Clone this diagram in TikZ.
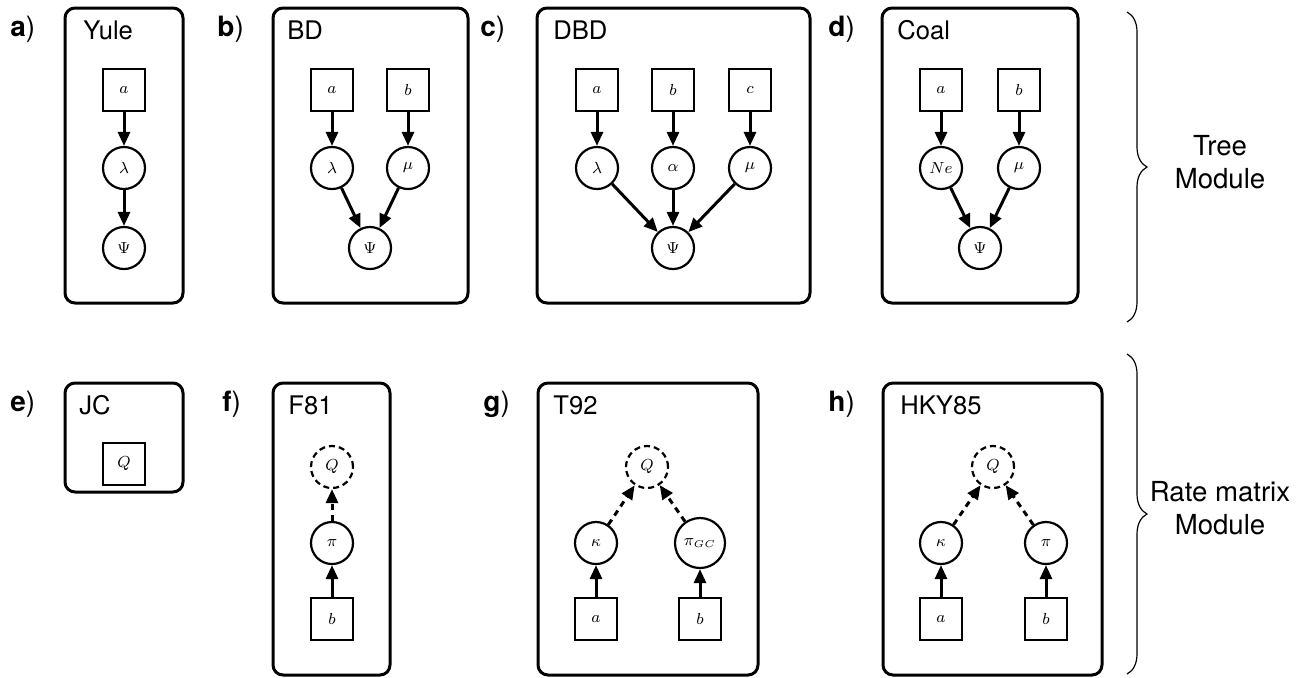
\documentclass[tikz,border=0pt]{standalone}
\usepackage{fontspec}
\setmainfont{TeX Gyre Heros}
\usetikzlibrary{arrows.meta,decorations.pathreplacing}
\begin{document}
\begin{tikzpicture}[x=0.5pt,y=-0.5pt,
  panel/.style={draw,line width=1.5pt,rounded corners=5pt},
  sq/.style={draw,line width=1pt,minimum size=21pt,inner sep=0pt,font=\fontsize{7.8}{9}\selectfont},
  cir/.style={draw,circle,line width=1.1pt,minimum size=21pt,inner sep=0pt,font=\fontsize{7.8}{9}\selectfont},
  dcir/.style={cir,dash pattern=on 3pt off 2pt},
  arr/.style={-{Triangle[length=7pt,width=6pt]},line width=1.5pt},
  darr/.style={arr,dash pattern=on 3pt off 2.5pt},
  title/.style={anchor=base west,inner sep=0pt,font=\fontsize{12.8}{14}\selectfont},
  plabel/.style={anchor=base west,inner sep=0pt,font=\fontsize{14}{16}\selectfont},
  modtext/.style={align=center,inner sep=0pt,font=\fontsize{13.8}{16.5}\selectfont},
  brc/.style={decorate,decoration={brace,amplitude=10pt},line width=0.6pt}]
\useasboundingbox (0,0) rectangle (1301,677);

% ---------- panel a: Yule ----------
\draw[panel] (65,8) rectangle (183,303);
\node[plabel] (la) at (10,36) {\textbf{a})};
\node[title] (ta) at (83,39) {Yule};
\node[sq] (aa) at (124,90) {$a$};
\node[cir] (alam) at (124,168) {$\lambda$};
\node[cir] (apsi) at (124,248) {$\Psi$};
\draw[arr] (aa) -- (alam);
\draw[arr] (alam) -- (apsi);

% ---------- panel b: BD ----------
\draw[panel] (273,8) rectangle (468,303);
\node[plabel] (lb) at (217,36) {\textbf{b})};
\node[title] (tb) at (287,39) {BD};
\node[sq] (ba) at (332,90) {$a$};
\node[sq] (bb) at (408,90) {$b$};
\node[cir] (blam) at (332,168) {$\lambda$};
\node[cir] (bmu) at (408,168) {$\mu$};
\node[cir] (bpsi) at (370,248) {$\Psi$};
\draw[arr] (ba) -- (blam);
\draw[arr] (bb) -- (bmu);
\draw[arr] (blam) -- (bpsi);
\draw[arr] (bmu) -- (bpsi);

% ---------- panel c: DBD ----------
\draw[panel] (537,8) rectangle (810,303);
\node[plabel] (lc) at (480,36) {\textbf{c})};
\node[title] (tc) at (553,39) {DBD};
\node[sq] (ca) at (597,90) {$a$};
\node[sq] (cb) at (673,90) {$b$};
\node[sq] (cc) at (750,90) {$c$};
\node[cir] (clam) at (597,168) {$\lambda$};
\node[cir] (calp) at (673,168) {$\alpha$};
\node[cir] (cmu) at (750,168) {$\mu$};
\node[cir] (cpsi) at (673,248) {$\Psi$};
\draw[arr] (ca) -- (clam);
\draw[arr] (cb) -- (calp);
\draw[arr] (cc) -- (cmu);
\draw[arr] (clam) -- (cpsi);
\draw[arr] (calp) -- (cpsi);
\draw[arr] (cmu) -- (cpsi);

% ---------- panel d: Coal ----------
\draw[panel] (882,8) rectangle (1078,303);
\node[plabel] (ld) at (828,36) {\textbf{d})};
\node[title] (td) at (897,39) {Coal};
\node[sq] (da) at (941,90) {$a$};
\node[sq] (db) at (1019,90) {$b$};
\node[cir] (dne) at (941,168) {$Ne$};
\node[cir] (dmu) at (1019,168) {$\mu$};
\node[cir] (dpsi) at (980,248) {$\Psi$};
\draw[arr] (da) -- (dne);
\draw[arr] (db) -- (dmu);
\draw[arr] (dne) -- (dpsi);
\draw[arr] (dmu) -- (dpsi);

% ---------- panel e: JC ----------
\draw[panel] (65,383) rectangle (183,492);
\node[plabel] (le) at (10,411) {\textbf{e})};
\node[title] (te) at (79,414) {JC};
\node[sq] (eq) at (124,464) {$Q$};

% ---------- panel f: F81 ----------
\draw[panel] (273,383) rectangle (390,675);
\node[plabel] (lf) at (222,411) {\textbf{f})};
\node[title] (tf) at (288,414) {F81};
\node[dcir] (fq) at (332,467) {$Q$};
\node[cir] (fpi) at (332,543) {$\pi$};
\node[sq] (fb) at (332,619) {$b$};
\draw[darr] (fpi) -- (fq);
\draw[arr] (fb) -- (fpi);

% ---------- panel g: T92 ----------
\draw[panel] (538,383) rectangle (758,675);
\node[plabel] (lg) at (483,411) {\textbf{g})};
\node[title] (tg) at (553,414) {T92};
\node[dcir] (gq) at (647,467) {$Q$};
\node[cir] (gk) at (596,543) {$\kappa$};
\node[cir,minimum size=25pt] (gpi) at (700,543) {$\pi_{GC}$};
\node[sq] (ga) at (596,619) {$a$};
\node[sq] (gb) at (700,619) {$b$};
\draw[darr] (gk) -- (gq);
\draw[darr] (gpi) -- (gq);
\draw[arr] (ga) -- (gk);
\draw[arr] (gb) -- (gpi);

% ---------- panel h: HKY85 ----------
\draw[panel] (883,383) rectangle (1102,675);
\node[plabel] (lh) at (828,411) {\textbf{h})};
\node[title] (th) at (900,414) {HKY85};
\node[dcir] (hq) at (993,467) {$Q$};
\node[cir] (hk) at (941,543) {$\kappa$};
\node[cir] (hpi) at (1046,543) {$\pi$};
\node[sq] (ha) at (941,619) {$a$};
\node[sq] (hb) at (1046,619) {$b$};
\draw[darr] (hk) -- (hq);
\draw[darr] (hpi) -- (hq);
\draw[arr] (ha) -- (hk);
\draw[arr] (hb) -- (hpi);

% ---------- braces ----------
\coordinate (b1s) at (1127,12);
\coordinate (b1e) at (1127,322);
\coordinate (b2s) at (1127,354);
\coordinate (b2e) at (1127,674);
\draw[brc] (b1s) -- (b1e);
\draw[brc] (b2s) -- (b2e);
\node[modtext] (tree) at (1220,162) {Tree\\Module};
\node[modtext] (rate) at (1220,508) {Rate matrix\\Module};
\end{tikzpicture}
\end{document}
